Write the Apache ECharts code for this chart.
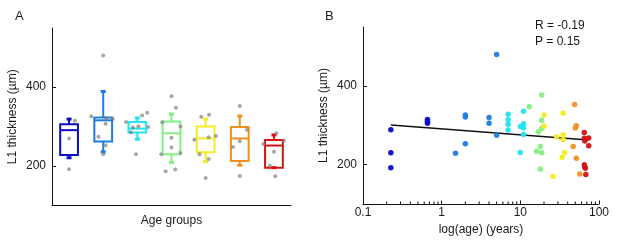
<!DOCTYPE html>
<html>
<head>
<meta charset="utf-8">
<script src="https://cdn.jsdelivr.net/npm/echarts@6/dist/echarts.min.js"></script>
<style>
  html, body { margin: 0; padding: 0; background: #fff; }
  #chart { width: 624px; height: 248px; }
</style>
</head>
<body>
<div id="chart"></div>
<script>
  // panel A: age groups, box stats [min, q1, median, q3, max]
  var groups = ['1', '2', '3', '4', '5', '6', '7']
  var groupColors = ['#0a0ac8', '#1e7ce0', '#22e4f0', '#84f084', '#f4ec20', '#f09020', '#d41414']
  var boxStats = [
    [221, 228, 291, 306, 319],
    [236, 262, 316, 323, 389],
    [268, 285, 295, 312, 322],
    [209, 230, 283, 313, 332],
    [211, 235, 270, 300, 319],
    [202, 213, 270, 299, 327],
    [196, 196, 252, 266, 279]
  ]
  // gray points per group: [jitter, value]
  var groupPoints = [
    [[0.17, 315], [0, 270], [0, 192]],
    [[0, 480], [-0.35, 326], [0.09, 321], [0.28, 319], [0.07, 307], [-0.14, 274], [0.07, 253], [0, 230]],
    [[-0.33, 312], [0.29, 335], [0.14, 328], [0.32, 299], [-0.19, 286], [0.03, 301], [-0.13, 298], [-0.04, 230]],
    [[0, 377], [0.13, 348], [-0.27, 311], [0.26, 300], [0, 272], [0, 247], [-0.3, 230], [0.26, 233], [-0.17, 187], [0.11, 191]],
    [[-0.13, 325], [0.1, 330], [0.3, 276], [-0.33, 267], [0.09, 273], [-0.18, 230], [0.09, 218], [0, 170]],
    [[0, 352], [0.21, 292], [0, 263], [-0.2, 248], [0, 175]],
    [[0.07, 283], [0.29, 265], [-0.31, 256], [0, 236], [-0.12, 201], [0.04, 174]]
  ]

  // panel B: age (years) vs thickness, one array per age group colour
  var agePoints = [
    [[0.226, 289], [0.226, 230], [0.226, 192], [0.66, 315], [0.66, 310], [0.66, 305]],
    [[1.5, 229], [2, 326], [2, 321], [2, 253], [4, 320], [4, 305], [5, 480], [5, 275]],
    [[7, 328], [7, 314], [7, 303], [7, 288], [10, 297], [10, 231], [11, 336], [11, 304], [11, 293], [11, 277]],
    [[13, 347], [18.7, 377], [18.7, 313], [18.7, 292], [17, 284], [18, 246], [16.1, 234], [18.7, 230], [18, 189]],
    [[20, 326], [20, 298], [26, 170], [29, 271], [35, 331], [35, 276], [35, 264], [36.6, 231], [34, 219]],
    [[49, 353], [51.5, 299], [50, 293], [47, 246], [51.5, 216], [57, 176]],
    [[65, 282], [65, 267], [66, 260], [74, 268], [74, 248], [65, 200], [66, 195], [67, 191], [68, 175]]
  ]
  var fitLine = [[0.226, 301], [73, 263]]
  var rText = 'R = -0.19'
  var pText = 'P = 0.15'
  var yTicks = [200, 400]
  var minorTicks = [0.2, 0.3, 0.4, 0.5, 0.6, 0.7, 0.8, 0.9, 2, 3, 4, 5, 6, 7, 8, 9, 20, 30, 40, 50, 60, 70, 80, 90]

  var font = 'Liberation Sans, Arial, sans-serif'
  var ink = '#1a1a1a'

  function yAxisOf(gridIndex) {
    return {
      gridIndex: gridIndex,
      type: 'value',
      min: 100,
      max: 550,
      name: 'L1 thickness (µm)',
      nameLocation: 'middle',
      nameGap: 33,
      nameTextStyle: { fontSize: 12, color: ink, fontFamily: font },
      axisLine: { show: true, onZero: false, lineStyle: { color: '#111', width: 1 } },
      axisTick: { show: true, inside: true, length: 4, customValues: yTicks, lineStyle: { color: '#111' } },
      axisLabel: { customValues: yTicks, fontSize: 12, color: ink, fontFamily: font, margin: 6 },
      splitLine: { show: false }
    }
  }

  var boxData = boxStats.map(function (s, i) { return [i].concat(s) })

  var series = [
    {
      type: 'custom',
      xAxisIndex: 0,
      yAxisIndex: 0,
      data: boxData,
      renderItem: function (params, api) {
        var c = groupColors[params.dataIndex]
        var x = api.value(0)
        var half = api.size([1, 0])[0] * 0.26
        var pLo = api.coord([x, api.value(1)])
        var pQ1 = api.coord([x, api.value(2)])
        var pMed = api.coord([x, api.value(3)])
        var pQ3 = api.coord([x, api.value(4)])
        var pHi = api.coord([x, api.value(5)])
        var cx = pMed[0]
        var st = { stroke: c, lineWidth: 2, fill: null }
        return {
          type: 'group',
          children: [
            { type: 'line', shape: { x1: cx, y1: pQ3[1], x2: cx, y2: pHi[1] }, style: st },
            { type: 'line', shape: { x1: cx, y1: pQ1[1], x2: cx, y2: pLo[1] }, style: st },
            { type: 'line', shape: { x1: cx - 2.5, y1: pHi[1], x2: cx + 2.5, y2: pHi[1] }, style: { stroke: c, lineWidth: 3 } },
            { type: 'line', shape: { x1: cx - 2.5, y1: pLo[1], x2: cx + 2.5, y2: pLo[1] }, style: { stroke: c, lineWidth: 3 } },
            { type: 'rect', shape: { x: cx - half, y: pQ3[1], width: half * 2, height: pQ1[1] - pQ3[1] }, style: st },
            { type: 'line', shape: { x1: cx - half, y1: pMed[1], x2: cx + half, y2: pMed[1] }, style: st }
          ]
        }
      }
    },
    {
      type: 'scatter',
      xAxisIndex: 1,
      yAxisIndex: 0,
      symbolSize: 4,
      itemStyle: { color: 'rgba(125,125,125,0.85)' },
      data: groupPoints.reduce(function (acc, pts, g) {
        return acc.concat(pts.map(function (p) { return [g + p[0], p[1]] }))
      }, []),
      z: 5
    },
    {
      type: 'custom',
      xAxisIndex: 2,
      yAxisIndex: 1,
      data: minorTicks.map(function (v) { return [v] }),
      clip: false,
      renderItem: function (params, api) {
        var p = api.coord([api.value(0), 100])
        return { type: 'line', shape: { x1: p[0], y1: p[1], x2: p[0], y2: p[1] - 2.5 }, style: { stroke: '#111', lineWidth: 1 } }
      },
      z: 6
    },
    {
      type: 'line',
      xAxisIndex: 2,
      yAxisIndex: 1,
      data: fitLine,
      symbol: 'none',
      lineStyle: { color: '#111', width: 1.5 },
      z: 3
    }
  ]
  agePoints.forEach(function (pts, g) {
    series.push({
      type: 'scatter',
      xAxisIndex: 2,
      yAxisIndex: 1,
      symbolSize: 5.5,
      itemStyle: { color: groupColors[g], opacity: 0.95 },
      data: pts,
      z: 4
    })
  })

  var chart = echarts.init(document.getElementById('chart'), null, { renderer: 'canvas' })
  chart.setOption({
    animation: false,
    backgroundColor: '#fff',
    textStyle: { fontFamily: font },
    title: [
      { text: 'A', left: 10, top: 5, textStyle: { fontSize: 13, fontWeight: 'normal', color: ink, fontFamily: font } },
      { text: 'B', left: 320, top: 5, textStyle: { fontSize: 13, fontWeight: 'normal', color: ink, fontFamily: font } }
    ],
    graphic: [
      { type: 'text', left: 535, top: 18, style: { text: rText + '\n' + pText, fontSize: 12, lineHeight: 16, fill: ink, font: '12px ' + font } }
    ],
    grid: [
      { left: 52, top: 28, width: 239, height: 177.5 },
      { left: 363, top: 27, width: 236, height: 177 }
    ],
    xAxis: [
      {
        gridIndex: 0,
        type: 'category',
        data: groups,
        name: 'Age groups',
        nameLocation: 'middle',
        nameGap: 9,
        nameTextStyle: { fontSize: 12, color: ink, fontFamily: font },
        axisLine: { onZero: false, lineStyle: { color: '#111', width: 1 } },
        axisTick: { inside: true, length: 4, alignWithLabel: true, lineStyle: { color: '#111' } },
        axisLabel: { show: false }
      },
      {
        gridIndex: 0,
        type: 'value',
        min: -0.5,
        max: 6.5,
        show: false
      },
      {
        gridIndex: 1,
        type: 'log',
        logBase: 10,
        min: 0.1,
        max: 100,
        name: 'log(age) (years)',
        nameLocation: 'middle',
        nameGap: 20,
        nameTextStyle: { fontSize: 12, color: ink, fontFamily: font },
        axisLine: { onZero: false, lineStyle: { color: '#111', width: 1 } },
        axisTick: { show: true, inside: true, length: 3.5, lineStyle: { color: '#111' } },
        axisLabel: { fontSize: 12, color: ink, fontFamily: font, margin: 3 },
        splitLine: { show: false }
      }
    ],
    yAxis: [yAxisOf(0), yAxisOf(1)],
    series: series
  })
</script>
</body>
</html>
